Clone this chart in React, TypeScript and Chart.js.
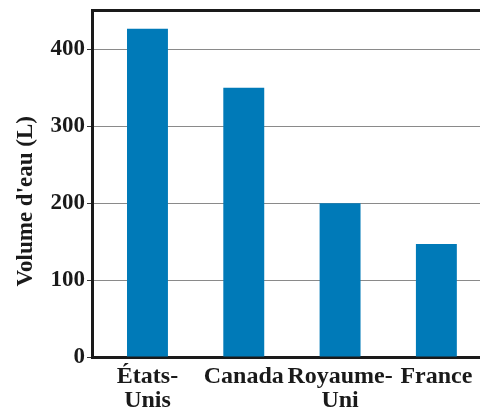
import React, { useEffect, useRef } from "react";
import { Chart, registerables } from "chart.js";

Chart.register(...registerables);

const categories: string[][] = [["États-", "Unis"], ["Canada"], ["Royaume-", "Uni"], ["France"]];
const values: number[] = [427, 350, 200, 147];
const yTicks: number[] = [0, 100, 200, 300, 400, 450];
const yTitle = "Volume d'eau (L)      ";

export default function App() {
  const ref = useRef<HTMLCanvasElement | null>(null);
  useEffect(() => {
    if (!ref.current) return;
    const font = "'Liberation Serif', 'Times New Roman', serif";
    const chart = new Chart(ref.current, {
      type: "bar",
      data: {
        datasets: [
          {
            data: values.map((v, i) => ({ x: i, y: v })),
            backgroundColor: "#007ab8",
            borderWidth: 0,
            barPercentage: 0.425,
            categoryPercentage: 1,
          },
        ],
      },
      options: {
        animation: false,
        responsive: true,
        maintainAspectRatio: false,
        layout: { padding: { top: 0, right: 0, left: 0, bottom: 0 } },
        plugins: { legend: { display: false }, tooltip: { enabled: false } },
        scales: {
          x: {
            type: "linear",
            offset: false,
            min: -0.576,
            max: 3.453,
            afterBuildTicks: (s: any) => {
              s.ticks = categories.map((_, i) => ({ value: i }));
            },
            afterFit: (s: any) => {
              s.height = 56;
            },
            grid: { display: false },
            border: { display: true, color: "#1a1a1a", width: 3 },
            ticks: {
              autoSkip: false,
              maxRotation: 0,
              padding: 0,
              color: "#1a1a1a",
              font: { family: font, size: 24, weight: "bold", lineHeight: 1.0 },
              callback: (v: any) => categories[Number(v)] ?? "",
            },
          },
          y: {
            min: 0,
            max: 450,
            afterBuildTicks: (s: any) => {
              s.ticks = yTicks.map((v) => ({ value: v }));
            },
            afterFit: (s: any) => {
              s.width = 92;
            },
            grid: {
              color: (c: any) => (c.tick && c.tick.value === 450 ? "#1a1a1a" : "#8a8a8a"),
              lineWidth: (c: any) => (c.tick && c.tick.value === 450 ? 3 : 1),
              tickColor: (c: any) => (c.tick && c.tick.value === 450 ? "rgba(0,0,0,0)" : "#333"),
              tickLength: 5,
            },
            border: { display: true, color: "#1a1a1a", width: 3 },
            ticks: {
              padding: 2,
              color: "#1a1a1a",
              font: { family: font, size: 23, weight: "bold", lineHeight: 0.78 },
              callback: (v: any) => (Number(v) % 100 === 0 ? String(v) : ""),
            },
            title: {
              display: true,
              text: yTitle,
              color: "#1a1a1a",
              padding: { top: 15, bottom: 0 },
              font: { family: font, size: 23, weight: "bold", lineHeight: 1.0 },
            },
          },
        },
      },
    });
    return () => chart.destroy();
  }, []);
  return (
    <div style={{ position: "absolute", left: 0, top: 0, width: 480, height: 413 }}>
      <canvas ref={ref} />
    </div>
  );
}
